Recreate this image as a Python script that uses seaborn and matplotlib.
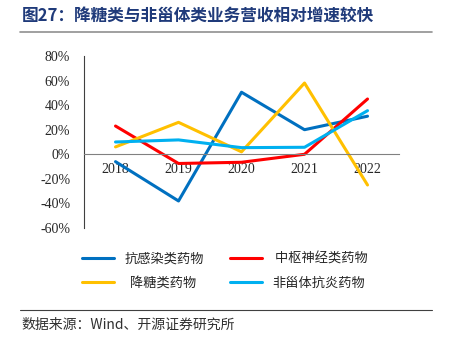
import numpy as np
import matplotlib
matplotlib.use('Agg')
import matplotlib.pyplot as plt
import matplotlib.lines as mlines
import seaborn as sns
import pandas as pd

years = ['2018', '2019', '2020', '2021', '2022']
anti_infective = [-6, -38, 50.5, 20, 31]
cns = [23, -7.5, -6.5, 0, 45]
antidiabetic = [6, 26, 2, 58, -25]
nsaid = [10, 11.7, 5.4, 5.7, 35.5]
series_names = ['抗感染类药物', '中枢神经类药物', '降糖类药物', '非甾体抗炎药物']
colors = ['#0070C0', '#FF0000', '#FFC000', '#00B0F0']

df = pd.DataFrame({
    'year': years * 4,
    'value': anti_infective + cns + antidiabetic + nsaid,
    'series': np.repeat(series_names, len(years)),
})

sns.set_style('white')
plt.rcParams['font.family'] = ['Noto Sans CJK SC', 'DejaVu Sans']

fig = plt.figure(figsize=(4.5, 3.5), dpi=100)
ax = fig.add_axes([0.1867, 0.3486, 0.70, 0.4914])

sns.lineplot(data=df, x='year', y='value', hue='series', palette=colors,
             linewidth=2.2, ax=ax, legend=False, sort=False)

ax.set_xlim(-0.5, 4.5)
ax.set_ylim(-60, 80)
ax.set_xlabel('')
ax.set_ylabel('')

# y axis
ax.set_yticks(np.arange(-60, 81, 20))
ax.set_yticklabels([f'{v}%' for v in range(-60, 81, 20)],
                   family='Liberation Serif', fontsize=10)
ax.tick_params(axis='y', direction='in', length=4, width=0.8, color='#404040', pad=10)

# x axis at zero, ticks at category boundaries pointing up
ax.spines['bottom'].set_position(('data', 0))
ax.spines['bottom'].set_color('#808080')
ax.spines['left'].set_color('#404040')
ax.spines['left'].set_linewidth(0.8)
ax.spines['top'].set_visible(False)
ax.spines['right'].set_visible(False)
ax.set_xticks(np.arange(0.5, 5, 1))
ax.set_xticklabels([])
ax.tick_params(axis='x', which='major', direction='in', length=4, color='#808080')
ax.set_xticks(range(len(years)), minor=True)
ax.set_xticklabels(years, minor=True, family='Liberation Serif', fontsize=10)
ax.tick_params(axis='x', which='minor', length=0, pad=6)

# legend (row-wise order: matplotlib fills columns first)
handles = [mlines.Line2D([], [], color=c, linewidth=2.2) for c in colors]
labels = [series_names[0], ' ' + series_names[1], '  ' + series_names[2], series_names[3]]
order = [0, 2, 1, 3]
fig.legend([handles[i] for i in order], [labels[i] for i in order], ncol=2,
           loc='center', bbox_to_anchor=(0.5, 0.225),
           frameon=False, fontsize=9.5, handlelength=2.4, columnspacing=2.0,
           labelspacing=0.85)

# title and rules
fig.text(0.048, 0.955, '图27：降糖类与非甾体类业务营收相对增速较快', fontsize=12,
         fontweight='bold', color='#1F3A7A', va='center')
fig.add_artist(mlines.Line2D([0.045, 0.96], [0.908, 0.908], color='#909090', linewidth=1.2))
fig.add_artist(mlines.Line2D([0.045, 0.96], [0.114, 0.114], color='#404040', linewidth=0.8))
fig.text(0.048, 0.073, '数据来源：Wind、开源证券研究所', fontsize=10, color='#303030',
         va='center')

fig.savefig('out.png', dpi=100)
